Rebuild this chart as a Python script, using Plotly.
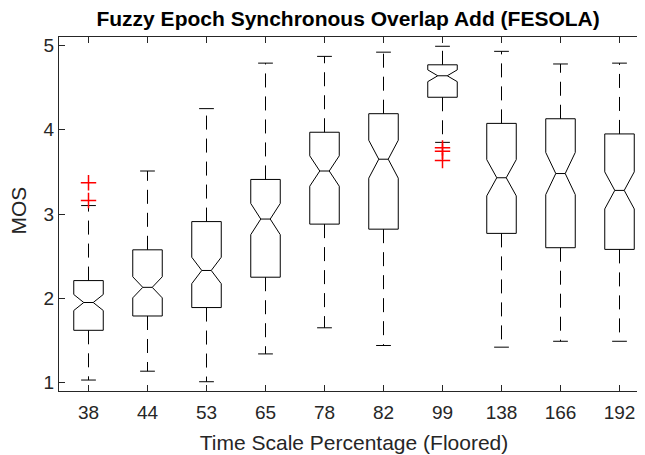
import plotly.graph_objects as go

# ---- data ----
categories = ["38", "44", "53", "65", "78", "82", "99", "138", "166", "192"]
q1 = [1.62, 1.79, 1.89, 2.25, 2.88, 2.82, 4.385, 2.77, 2.60, 2.58]
median = [1.95, 2.13, 2.33, 2.94, 3.51, 3.65, 4.64, 3.43, 3.48, 3.28]
q3 = [2.21, 2.575, 2.91, 3.41, 3.97, 4.19, 4.77, 4.075, 4.13, 3.95]
lower_whisker = [1.03, 1.135, 1.01, 1.34, 1.65, 1.44, 3.85, 1.42, 1.49, 1.49]
upper_whisker = [3.10, 3.51, 4.25, 4.79, 4.87, 4.92, 4.99, 4.93, 4.78, 4.79]
notch_span = [0.095, 0.125, 0.157, 0.185, 0.18, 0.225, 0.07, 0.215, 0.25, 0.22]
outlier_cat = ["38", "38", "99", "99", "99"]
outlier_val = [3.37, 3.16, 3.785, 3.745, 3.635]
y_ticks = [1, 2, 3, 4, 5]

AX = "#262626"
FONT = "Liberation Sans, Arial, Helvetica, sans-serif"

pos = list(range(1, len(categories) + 1))
cat_pos = {c: p for c, p in zip(categories, pos)}

fig = go.Figure()

# notched boxes (whiskers drawn separately so they can be dashed)
fig.add_trace(go.Box(
    x=pos, q1=q1, median=median, q3=q3,
    lowerfence=q1, upperfence=q3,
    notchspan=notch_span, notched=True, notchwidth=0.34,
    width=0.5, whiskerwidth=0,
    line=dict(color="black", width=1),
    fillcolor="rgba(255,255,255,0)",
    boxpoints=False, hoverinfo="skip", showlegend=False,
))

# dashed whiskers
wx, wy = [], []
for p, a, b, c, d in zip(pos, q3, upper_whisker, q1, lower_whisker):
    wx += [p, p, None, p, p, None]
    wy += [a, b, None, c, d, None]
fig.add_trace(go.Scatter(
    x=wx, y=wy, mode="lines",
    line=dict(color="black", width=1, dash="14px,9px"),
    hoverinfo="skip", showlegend=False,
))

# whisker caps
cap_half = 0.125
cx, cy = [], []
for p, b, d in zip(pos, upper_whisker, lower_whisker):
    cx += [p - cap_half, p + cap_half, None, p - cap_half, p + cap_half, None]
    cy += [b, b, None, d, d, None]
fig.add_trace(go.Scatter(
    x=cx, y=cy, mode="lines",
    line=dict(color="black", width=1),
    hoverinfo="skip", showlegend=False,
))

# outliers
fig.add_trace(go.Scatter(
    x=[cat_pos[c] for c in outlier_cat], y=outlier_val, mode="markers",
    marker=dict(symbol="cross-thin", size=11, color="red",
                line=dict(color="red", width=1.5)),
    hoverinfo="skip", showlegend=False,
))

fig.add_annotation(
    text="MOS", textangle=-90, showarrow=False,
    xref="paper", x=-0.0695, xanchor="center",
    yref="paper", y=0.51, yanchor="middle",
    font=dict(size=21, color=AX, family=FONT),
)

fig.update_layout(
    width=645, height=455,
    margin=dict(l=51, r=4, t=29, b=72),
    paper_bgcolor="white", plot_bgcolor="white",
    font=dict(family=FONT, color=AX),
    title=dict(text="<b>Fuzzy Epoch Synchronous Overlap Add (FESOLA)</b>",
               x=0.49, xref="paper", xanchor="center",
               y=1 - 11 / 455, yref="container", yanchor="middle",
               font=dict(size=21, color="black", family=FONT)),
    xaxis=dict(range=[0.5, 10.5], tickmode="array", tickvals=pos,
               ticktext=categories, ticks="inside", ticklen=6,
               tickcolor=AX, showline=True, linecolor=AX, linewidth=1,
               mirror="ticks", showgrid=False, zeroline=False,
               automargin=False, ticklabelstandoff=4,
               tickfont=dict(size=19, color=AX),
               title=dict(text="Time Scale Percentage (Floored)",
                          font=dict(size=21, color=AX), standoff=13)),
    yaxis=dict(range=[0.9, 5.1], tickmode="array", tickvals=y_ticks,
               ticks="inside", ticklen=6, tickcolor=AX,
               showline=True, linecolor=AX, linewidth=1,
               mirror="ticks", showgrid=False, zeroline=False,
               automargin=False,
               tickfont=dict(size=19, color=AX)),
)

fig.write_html("out.html")
